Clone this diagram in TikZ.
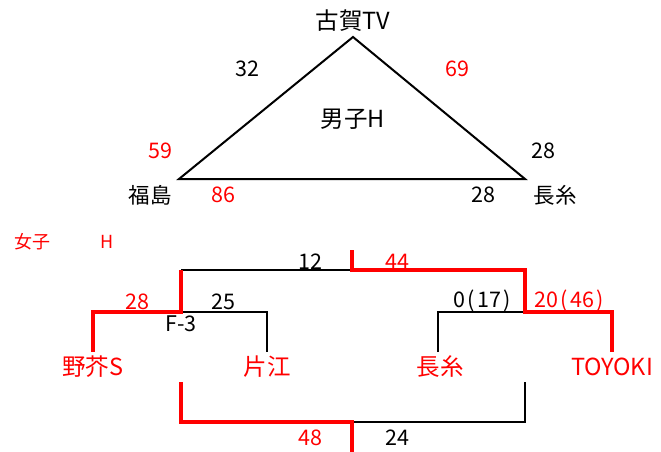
\documentclass[tikz,border=0pt]{standalone}
\usepackage{fontspec}
\setmainfont{Noto Sans CJK JP}
\begin{document}
\begin{tikzpicture}[x=1pt,y=-1pt,
  lbl/.style={inner sep=0pt,font=\fontsize{21.5}{21.5}\selectfont},
  big/.style={inner sep=0pt,font=\fontsize{23.5}{23.5}\selectfont},
  small/.style={inner sep=0pt,font=\fontsize{18}{18}\selectfont},
  red/.style={text=red},
  thin/.style={draw=black,line width=2pt},
  thick/.style={draw=red,line width=4.5pt}]
\useasboundingbox (0,0) rectangle (661,452);
% triangle
\coordinate (A) at (353,37);
\coordinate (B) at (179,179);
\coordinate (C) at (525,179);
\draw[thin,line join=miter] (A) -- (B) -- (C) -- cycle;
\node[big] (koga) at (353,21) {古賀TV};
\node[lbl] (s32) at (247,69) {32};
\node[lbl,red] (s69) at (457,69) {69};
\node[big] (dan) at (353,119) {男子H};
\node[lbl,red] (s59) at (160,151) {59};
\node[lbl] (s28a) at (543,151) {28};
\node[lbl] (fuku) at (150,195) {福島};
\node[lbl,red] (s86) at (223,195) {86};
\node[lbl] (s28b) at (483,195) {28};
\node[lbl] (naga1) at (555,195) {長糸};
% women
\node[small,red] (jo) at (32,242) {女子};
\node[small,red] (h) at (107,242) {H};
% bracket coordinates
\coordinate (t1) at (181,270);
\coordinate (t2) at (352,270);
\coordinate (t2u) at (352,250);
\coordinate (t3) at (525,270);
\coordinate (l1) at (93,312);
\coordinate (l2) at (181,312);
\coordinate (l3) at (267,312);
\coordinate (l1d) at (93,352);
\coordinate (l3d) at (267,352);
\coordinate (r1) at (438,312);
\coordinate (r2) at (525,312);
\coordinate (r3) at (612,312);
\coordinate (r1d) at (438,352);
\coordinate (r3d) at (612,352);
\coordinate (b1u) at (181,382);
\coordinate (b1) at (181,422);
\coordinate (b2) at (352,422);
\coordinate (b2d) at (352,452);
\coordinate (b3) at (525,422);
\coordinate (b3u) at (525,382);
% black lines
\draw[thin] (t1) -- (t2);
\draw[thin] (l2) -- (l3) -- (l3d);
\draw[thin] (r1d) -- (r1) -- (r2);
\draw[thin] (b2) -- (b3) -- (b3u);
% red lines
\draw[thick] (t2u) -- (t2) -- (t3) -- (r2) -- (r3) -- (r3d);
\draw[thick] (t1) -- (l2) -- (l1) -- (l1d);
\draw[thick] (b1u) -- (b1) -- (b2) -- (b2d);
% labels
\node[lbl] (s12) at (310,262) {12};
\node[lbl,red] (s44) at (397,262) {44};
\node[lbl,red] (s28c) at (137,302) {28};
\node[lbl] (s25) at (223,302) {25};
\node[lbl] (f3) at (181,324) {F-3};
\node[lbl] (s0) at (482,301) {0\kern2.5pt(\kern2.5pt17\kern2.5pt)};
\node[lbl,red] (s20) at (569,301) {20\kern2.5pt(\kern2.5pt46\kern2.5pt)};
\node[big,red] (noke) at (93,367) {野芥S};
\node[big,red] (kata) at (267,367) {片江};
\node[big,red] (naga2) at (440,367) {長糸};
\node[big,red] (toyo) at (612,367) {TOYOKI};
\node[lbl,red] (s48) at (310,438) {48};
\node[lbl] (s24) at (397,438) {24};
\end{tikzpicture}
\end{document}
